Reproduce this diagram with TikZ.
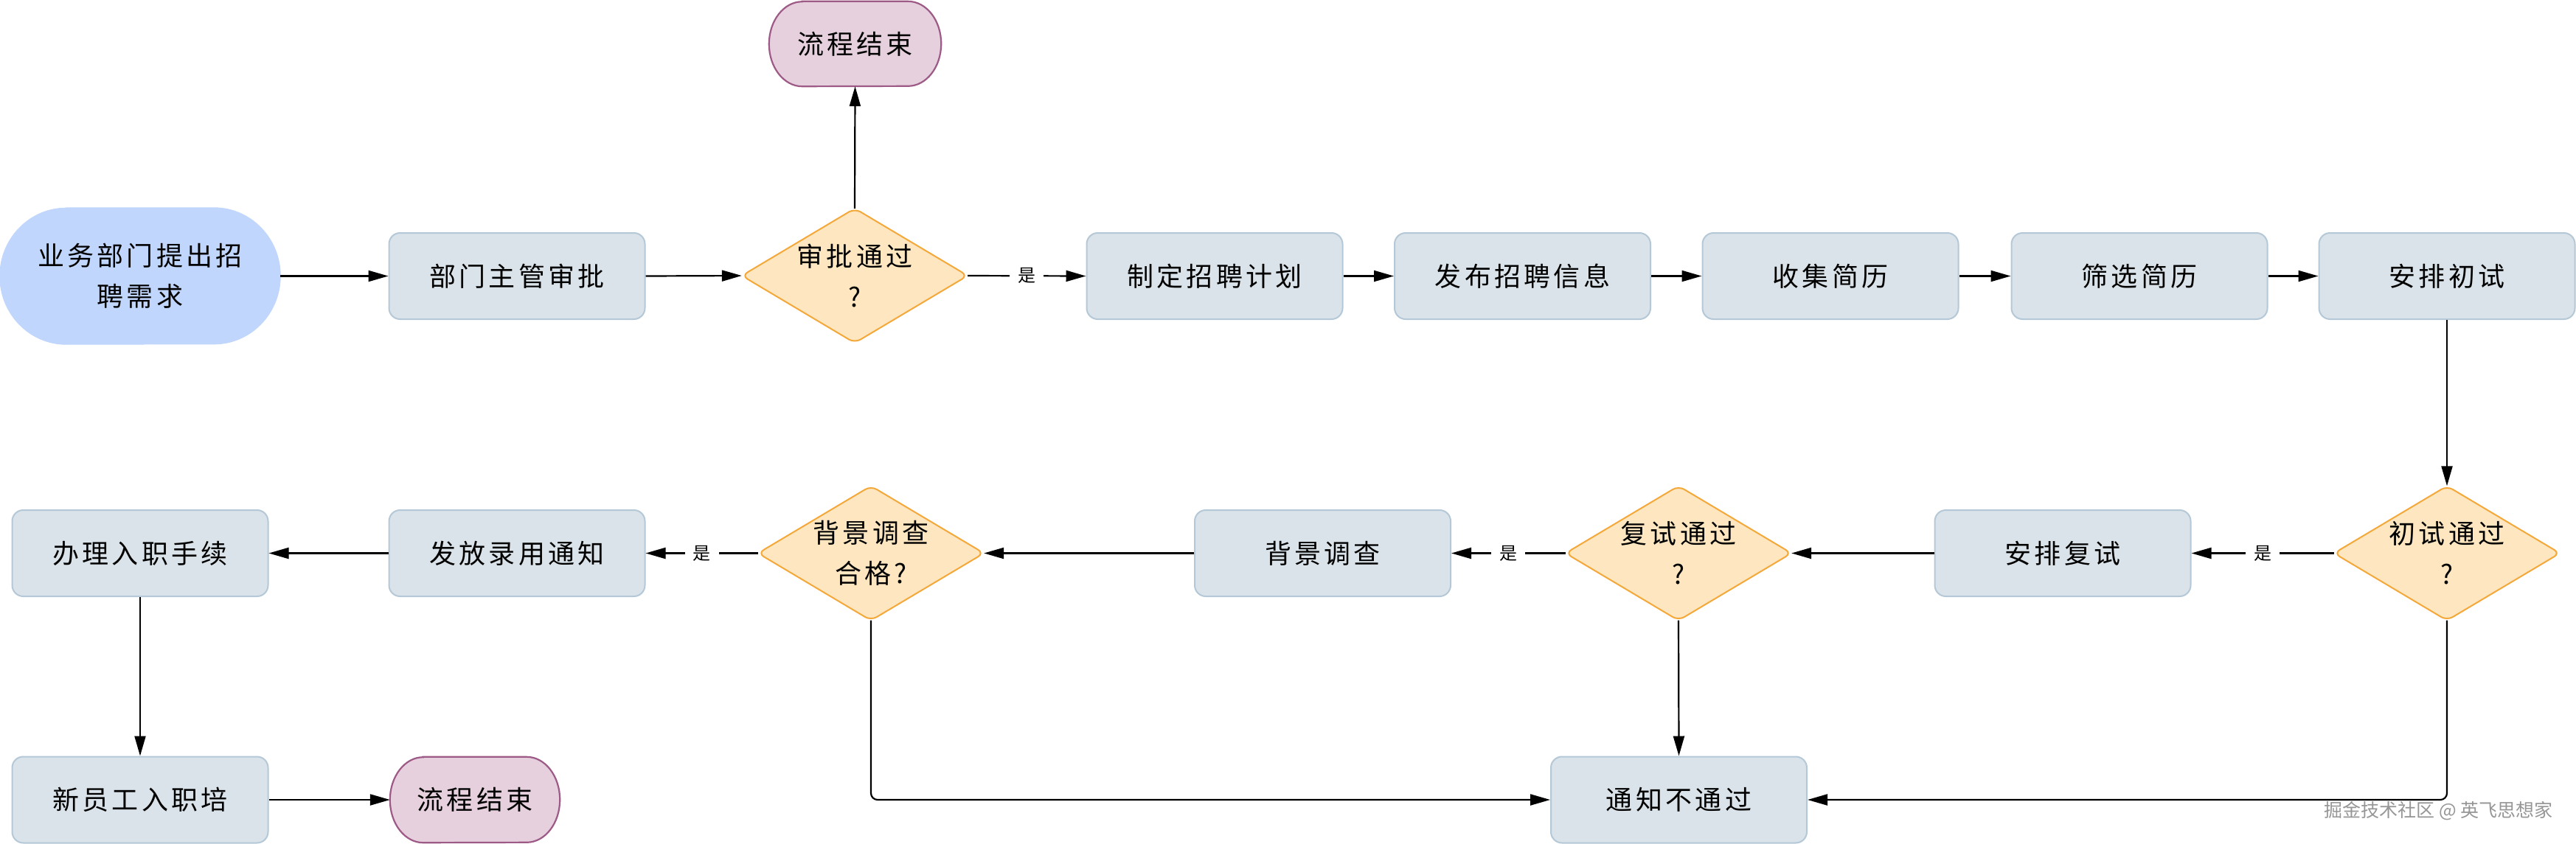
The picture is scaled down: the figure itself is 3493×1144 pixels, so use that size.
\documentclass[tikz,border=0pt]{standalone}
\usepackage{fontspec}
\setmainfont{Noto Sans CJK SC}
\newfontfamily\cjkls[LetterSpace=12]{Noto Sans CJK SC}
\usetikzlibrary{arrows.meta,backgrounds}
\definecolor{boxfill}{RGB}{218,227,233}
\definecolor{boxline}{RGB}{180,200,215}
\definecolor{dfill}{RGB}{253,230,192}
\definecolor{dline}{RGB}{245,168,58}
\definecolor{sfill}{RGB}{193,214,252}
\definecolor{efill}{RGB}{230,208,222}
\definecolor{eline}{RGB}{158,90,134}
\definecolor{wmark}{RGB}{150,150,150}
\tikzset{
  txt/.style={font=\cjkls\fontsize{36}{55}\selectfont, align=center, text=black},
  boxn/.style={txt, rectangle, rounded corners=15pt, fill=boxfill, draw=boxline, line width=2pt,
    minimum width=347pt, minimum height=117pt, inner sep=0pt},
  dnode/.style={txt, rectangle, draw=none, minimum width=306pt, minimum height=182pt, inner sep=0pt},
  tnode/.style={txt, rectangle, draw=none, inner sep=0pt},
  diam/.style={fill=dfill, draw=dline, line width=2pt, rounded corners=9pt},
  sterm/.style={fill=sfill, draw=sfill, line width=1pt},
  eterm/.style={fill=efill, draw=eline, line width=2.2pt},
  arr/.style={draw=black, line width=2.2pt, -{Triangle[length=27pt,width=15pt]}},
  lbl/.style={font=\fontsize{24}{24}\selectfont, fill=white, inner xsep=11pt, inner ysep=2pt, text=black},
}
\newcommand{\termpath}[4]{% style, node, rx, ry
  \path[#1] ([xshift=#3]#2.north west) -- ([xshift=-#3]#2.north east)
    arc[start angle=90, end angle=-90, x radius=#3, y radius=#4]
    -- ([xshift=#3]#2.south west)
    arc[start angle=270, end angle=90, x radius=#3, y radius=#4] -- cycle;}
\begin{document}
\begin{tikzpicture}[x=1pt,y=1pt]
\useasboundingbox (0,0) rectangle (3493,-1144);
% row 1
\node[tnode, minimum width=380pt, minimum height=185pt] (s) at (190,-374.5) {业务部门提出招\\聘需求};
\node[boxn] (b1) at (701,-374.5) {部门主管审批};
\node[dnode] (d1) at (1159,-374) {审批通过\\?};
\node[tnode, minimum width=233pt, minimum height=115pt] (e1) at (1159.5,-59.5) {流程结束};
\node[boxn] (b2) at (1647,-374.5) {制定招聘计划};
\node[boxn] (b3) at (2064.5,-374.5) {发布招聘信息};
\node[boxn] (b4) at (2482,-374.5) {收集简历};
\node[boxn] (b5) at (2901,-374.5) {筛选简历};
\node[boxn] (b6) at (3318,-374.5) {安排初试};
% row 2
\node[dnode] (d2) at (3318,-750.5) {初试通过\\?};
\node[boxn] (b7) at (2797,-750.5) {安排复试};
\node[dnode] (d3) at (2276,-750.5) {复试通过\\?};
\node[boxn] (b8) at (1793.5,-750.5) {背景调查};
\node[dnode] (d4) at (1181,-750.5) {背景调查\\合格?};
\node[boxn] (b9) at (701,-750.5) {发放录用通知};
\node[boxn] (b10) at (190,-750.5) {办理入职手续};
% row 3
\node[boxn] (b11) at (190,-1085) {新员工入职培};
\node[tnode, minimum width=230pt, minimum height=116pt] (e2) at (644,-1085) {流程结束};
\node[boxn] (b12) at (2276.5,-1085) {通知不通过};
% watermark
\node[font=\fontsize{25}{25}\selectfont, text=wmark, anchor=east, inner sep=0pt] (wm) at (3462,-1100) {掘金技术社区 @ 英飞思想家};
% shapes on background
\begin{scope}[on background layer]
  \termpath{sterm}{s}{90pt}{92.5pt}
  \termpath{eterm}{e1}{45pt}{57.5pt}
  \termpath{eterm}{e2}{45pt}{58pt}
  \foreach \n in {d1,d2,d3,d4}
    \path[diam] (\n.north) -- (\n.east) -- (\n.south) -- (\n.west) -- cycle;
\end{scope}
% connectors
\draw[arr] (s.east) -- (b1.west);
\draw[arr] (b1.east) -- (d1.west);
\draw[arr] (d1.north) -- (e1.south);
\draw[arr] (d1.east) -- node[lbl]{是} (b2.west);
\draw[arr] (b2.east) -- (b3.west);
\draw[arr] (b3.east) -- (b4.west);
\draw[arr] (b4.east) -- (b5.west);
\draw[arr] (b5.east) -- (b6.west);
\draw[arr] (b6.south) -- (d2.north);
\draw[arr] (d2.west) -- node[lbl]{是} (b7.east);
\draw[arr] (b7.west) -- (d3.east);
\draw[arr] (d3.west) -- node[lbl]{是} (b8.east);
\draw[arr] (b8.west) -- (d4.east);
\draw[arr] (d4.west) -- node[lbl]{是} (b9.east);
\draw[arr] (b9.west) -- (b10.east);
\draw[arr] (b10.south) -- (b11.north);
\draw[arr] (b11.east) -- (e2.west);
\draw[arr] (d3.south) -- (b12.north);
\draw[arr, rounded corners=9pt] (d4.south) |- (b12.west);
\draw[arr, rounded corners=9pt] (d2.south) |- (b12.east);
\end{tikzpicture}
\end{document}
